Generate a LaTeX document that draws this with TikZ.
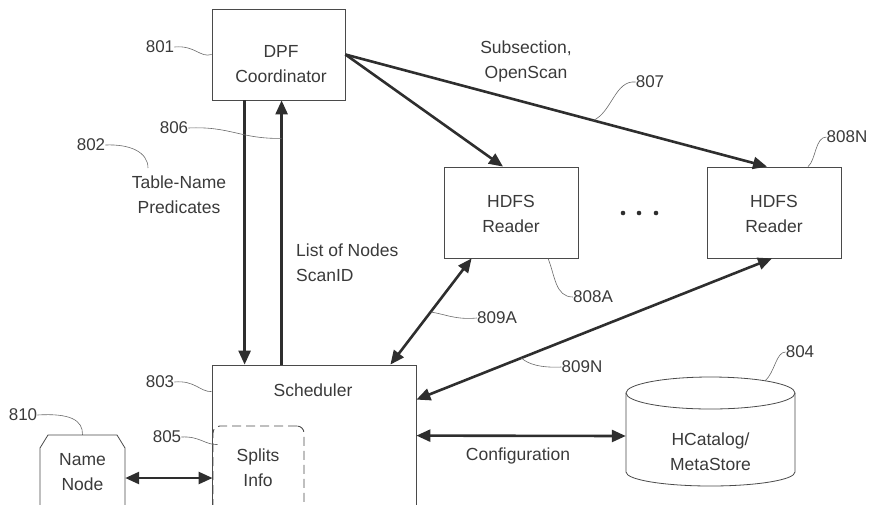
\documentclass[tikz,border=0pt]{standalone}
\usepackage{fontspec}
\setmainfont{Liberation Sans}
\usetikzlibrary{arrows.meta,calc}
\definecolor{ink}{HTML}{3A3A3A}
\definecolor{linec}{HTML}{4A4A4A}
\definecolor{arrc}{HTML}{2E2E2E}
\definecolor{leadc}{HTML}{6A6A6A}
\begin{document}
\begin{tikzpicture}[x=1pt,y=-1pt,
  every node/.style={font=\fontsize{17.5}{25}\selectfont, text=ink, inner sep=0pt, align=center},
  box/.style={draw=linec, line width=0.8pt, rectangle},
  arr/.style={draw=arrc, line width=2.6pt, -{Triangle[length=14pt,width=12pt]}},
  darr/.style={draw=arrc, line width=2.6pt, {Triangle[length=14pt,width=12pt]}-{Triangle[length=14pt,width=12pt]}},
  leader/.style={draw=leadc, line width=0.6pt},
  num/.style={font=\fontsize{17}{20}\selectfont}]
\useasboundingbox (0,0) rectangle (869,504);
\clip (0,0) rectangle (869,504);

% boxes
\node[box, minimum width=133pt, minimum height=91pt] (dpf) at (278.5,54.5) {};
\node (dpftxt) at (281,64) {DPF\\Coordinator};
\node[box, minimum width=134pt, minimum height=91pt] (rA) at (511,212.5) {};
\node (rAtxt) at (511,213.5) {HDFS\\Reader};
\node[box, minimum width=134pt, minimum height=91pt] (rN) at (774,212.5) {};
\node (rNtxt) at (774,213.5) {HDFS\\Reader};
\node[box, minimum width=204pt, minimum height=170pt] (sched) at (314,450) {};
\node (schedtxt) at (313,390) {Scheduler};
\node[draw=linec, line width=0.9pt, dash pattern=on 9pt off 5pt, rounded corners=7pt,
      minimum width=91pt, minimum height=88pt] (splits) at (258.5,470) {};
\node (splitstxt) at (258,468) {Splits\\Info};

% name node
\node[minimum width=85pt, minimum height=75pt] (nn) at (82.5,472.5) {Name\\Node};
\draw[linec, line width=0.8pt] (40,512) -- (40,448) -- (48,435) -- (117,435) -- (125,448) -- (125,512);

% cylinder
\draw[linec, line width=0.8pt] (626,393) -- (626,472) arc[start angle=180, end angle=360, x radius=84.5pt, y radius=14pt] -- (795,393);
\draw[linec, line width=0.8pt] (710.5,393) ellipse [x radius=84.5pt, y radius=16pt];
\node[minimum width=169pt] (hcat) at (710.5,452) {HCatalog/\\MetaStore};

% dots
\foreach \dx in {623,639,656} \fill[arrc] (\dx,213) circle (2.3pt);

% arrows
\draw[arr] ([xshift=33pt]dpf.south west) -- ([xshift=33pt]sched.north west);
\draw[arr] ([xshift=70pt]sched.north west) -- ([xshift=70pt]dpf.south west);
\draw[arr] (dpf.east) -- ([xshift=-8pt]rA.north);
\draw[arr] (dpf.east) -- ([xshift=-7pt]rN.north);
\coordinate (s809a) at ([xshift=-26pt]sched.north east);
\coordinate (e809a) at ([xshift=28pt]rA.south west);
\draw[darr] (s809a) -- (e809a);
\coordinate (s809n) at ([yshift=-35pt]sched.north east);
\coordinate (e809n) at ([xshift=-2pt]rN.south);
\draw[darr] (s809n) -- (e809n);
\draw[darr] ([yshift=-71pt]sched.north east) -- ([yshift=16pt]hcat.west);
\draw[darr] ([yshift=-5.5pt]nn.east) -- ([yshift=-8pt]splits.west);

% texts
\node (tn) at (179,195) {Table-Name\\Predicates};
\node[anchor=west, align=left] (lon) at (296,262.5) {List of Nodes\\ScanID};
\node (sub) at (526,61) {Subsection,\\OpenScan};
\node (conf) at (518,456) {Configuration};

% reference numbers and leaders
\node[num] (l801) at (160,47) {801};
\draw[leader] (l801.east) .. controls (195,45) and (200,58) .. (dpf.west);
\node[num] (l806) at (174,128) {806};
\coordinate (t806) at ($(dpf.south west)+(70,38)$);
\draw[leader] (l806.east) .. controls (230,126) and (240,139) .. (t806);
\node[num] (l802) at (91,145) {802};
\coordinate (t802) at (148,168);
\draw[leader] (l802.east) .. controls (130,144) and (148,152) .. (t802);
\node[num] (l807) at (650,82) {807};
\coordinate (t807) at ($(dpf.east)!0.588!([xshift=-7pt]rN.north)$);
\draw[leader] (l807.west) .. controls (615,80) and (612,112) .. (t807);
\node[num] (l808N) at (847,137) {808N};
\draw[leader] (l808N.west) .. controls (815,137) and (816,160) .. ([xshift=34pt]rN.north);
\node[num] (l808A) at (593,297) {808A};
\draw[leader] (l808A.west) .. controls (555,297) and (555,275) .. ([xshift=37pt]rA.south);
\node[num] (l809A) at (497,318) {809A};
\coordinate (t809a) at ($(s809a)!0.495!(e809a)$);
\draw[leader] (l809A.west) .. controls (455,320) and (445,314) .. (t809a);
\node[num] (l809N) at (582,367) {809N};
\coordinate (t809n) at ($(s809n)!0.295!(e809n)$);
\draw[leader] (l809N.west) .. controls (540,368) and (528,364) .. (t809n);
\node[num] (l804) at (800,352) {804};
\coordinate (t804) at (765,381);
\draw[leader] (l804.west) .. controls (776,352) and (775,372) .. (t804);
\node[num] (l803) at (160,382) {803};
\draw[leader] (l803.east) .. controls (195,380) and (200,392) .. ([yshift=-27pt]sched.north west);
\node[num] (l810) at (23,415) {810};
\draw[leader] (l810.east) .. controls (70,413) and (83,420) .. (nn.north);
\node[num] (l805) at (167,437) {805};
\draw[leader] (l805.east) .. controls (200,436) and (205,445) .. ([xshift=5pt,yshift=-19pt]splits.north west);
\end{tikzpicture}
\end{document}
